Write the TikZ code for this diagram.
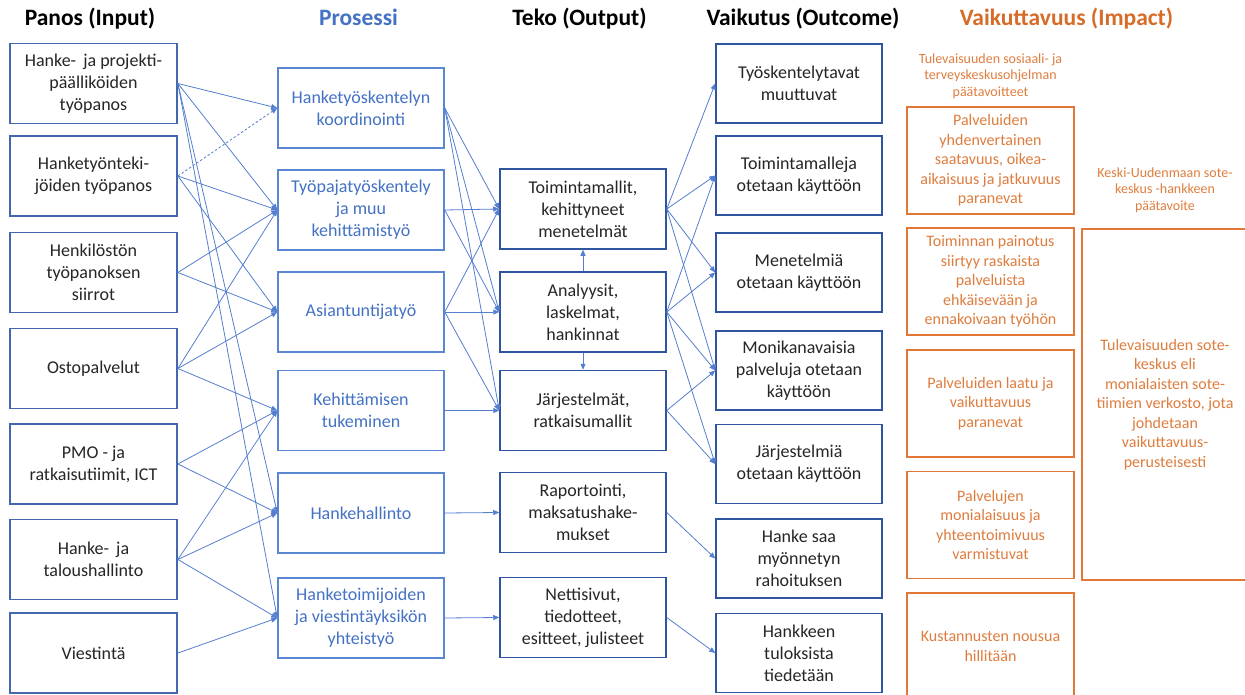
\documentclass[tikz,border=0pt]{standalone}
\usepackage{fontspec}
\setmainfont{Carlito}
\usetikzlibrary{arrows.meta}

\definecolor{inblue}{RGB}{68,104,176}
\definecolor{procblue}{RGB}{91,134,210}
\definecolor{proctext}{RGB}{68,114,196}
\definecolor{outblue}{RGB}{47,85,160}
\definecolor{linkblue}{RGB}{84,126,206}
\definecolor{impact}{RGB}{226,120,56}
\definecolor{impacttext}{RGB}{222,125,62}
\definecolor{headorange}{RGB}{214,108,40}
\definecolor{bodytext}{RGB}{38,38,38}

\tikzset{
  box/.style={draw, rectangle, fill=white, minimum width=167pt, minimum height=80pt,
    inner sep=0pt, align=center, font=\fontsize{18}{22}\selectfont, text=bodytext},
  inbox/.style={box, draw=inblue, line width=1.8pt},
  procbox/.style={box, draw=procblue, line width=1.5pt, text=proctext},
  outbox/.style={box, draw=outblue, line width=1.5pt},
  impbox/.style={draw=impact, line width=1.8pt, rectangle, fill=white, inner sep=0pt,
    minimum width=167pt, minimum height=107pt, align=center,
    font=\fontsize{16}{19.5}\selectfont, text=impacttext},
  impnote/.style={align=center, font=\fontsize{14}{16.3}\selectfont, text=impacttext},
  head/.style={anchor=base, font=\fontsize{23.5}{28}\selectfont\bfseries},
  link/.style={draw=linkblue, line width=0.8pt, -{Triangle[length=6pt,width=5pt]}},
  dashlink/.style={link, dash pattern=on 2.5pt off 2pt},
}

\begin{document}
\begin{tikzpicture}[x=1pt, y=-1pt]
\useasboundingbox (0,0) rectangle (1245,695);

% column headings
\node[head] (hIn)   at (90,26)    {Panos (Input)};
\node[head, text=proctext] (hProc) at (358.5,26) {Prosessi};
\node[head] (hOut)  at (579.5,26) {Teko (Output)};
\node[head] (hOc)   at (803,26)   {Vaikutus (Outcome)};
\node[head, text=headorange] (hImp) at (1066.5,26) {Vaikuttavuus (Impact)};

% inputs
\node[inbox] (A1) at (93.5,83.5)  {Hanke-\, ja projekti-\\päälliköiden\\työpanos};
\node[inbox] (A2) at (93.5,176)   {Hanketyönteki-\\jöiden työpanos};
\node[inbox] (A3) at (93.5,272.5) {Henkilöstön\\työpanoksen\\siirrot};
\node[inbox] (A4) at (93.5,368.5) {Ostopalvelut};
\node[inbox] (A5) at (93.5,464)   {PMO - ja\\ratkaisutiimit, ICT};
\node[inbox] (A6) at (93.5,559.5) {Hanke-\, ja\\taloushallinto};
\node[inbox] (A7) at (93.5,653)   {Viestintä};

% process
\node[procbox, minimum width=166pt] (P1) at (361,108) {Hanketyöskentelyn\\koordinointi};
\node[procbox, minimum width=166pt] (P2) at (361,210) {Työpajatyöskentely\\ja muu\\kehittämistyö};
\node[procbox, minimum width=166pt] (P3) at (361,312) {Asiantuntijatyö};
\node[procbox, minimum width=166pt] (P4) at (361,410.5) {Kehittämisen\\tukeminen};
\node[procbox, minimum width=166pt] (P5) at (361,513) {Hankehallinto};
\node[procbox, minimum width=166pt] (P6) at (361,618) {Hanketoimijoiden\\ja viestintäyksikön\\yhteistyö};

% outputs
\node[outbox, minimum width=166pt] (T1) at (583,209)   {Toimintamallit,\\kehittyneet\\menetelmät};
\node[outbox, minimum width=166pt] (T2) at (583,312)   {Analyysit,\\laskelmat,\\hankinnat};
\node[outbox, minimum width=166pt] (T3) at (583,410.5) {Järjestelmät,\\ratkaisumallit};
\node[outbox, minimum width=166pt] (T4) at (583,512.5) {Raportointi,\\maksatushake-\\mukset};
\node[outbox, minimum width=166pt] (T5) at (583,617.5) {Nettisivut,\\tiedotteet,\\esitteet, julisteet};

% outcomes
\node[outbox, minimum width=166pt, minimum height=79pt] (V1) at (799,83.5) {Työskentelytavat\\muuttuvat};
\node[outbox, minimum width=166pt, minimum height=79pt] (V2) at (799,175.5) {Toimintamalleja\\otetaan käyttöön};
\node[outbox, minimum width=166pt, minimum height=79pt] (V3) at (799,272.5) {Menetelmiä\\otetaan käyttöön};
\node[outbox, minimum width=166pt, minimum height=79pt] (V4) at (799,370.5) {Monikanavaisia\\palveluja otetaan\\käyttöön};
\node[outbox, minimum width=166pt, minimum height=79pt] (V5) at (799,464)   {Järjestelmiä\\otetaan käyttöön};
\node[outbox, minimum width=166pt, minimum height=79pt] (V6) at (799,558.5) {Hanke saa\\myönnetyn\\rahoituksen};
\node[outbox, minimum width=166pt, minimum height=79pt] (V7) at (799,653)   {Hankkeen\\tuloksista\\tiedetään};

% impact
\node[impnote] (Ogoal) at (990.5,76) {Tulevaisuuden sosiaali- ja\\terveyskeskusohjelman\\päätavoitteet};
\node[impbox] (O1) at (990.5,160.5) {Palveluiden\\yhdenvertainen\\saatavuus, oikea-\\aikaisuus ja jatkuvuus\\paranevat};
\node[impbox] (O2) at (990.5,281.5) {Toiminnan painotus\\siirtyy raskaista\\palveluista\\ehkäisevään ja\\ennakoivaan työhön};
\node[impbox] (O3) at (990.5,403.5) {Palveluiden laatu ja\\vaikuttavuus\\paranevat};
\node[impbox] (O4) at (990.5,525)   {Palvelujen\\monialaisuus ja\\yhteentoimivuus\\varmistuvat};
\node[impbox] (O5) at (990.5,646.5) {Kustannusten nousua\\hillitään};
\node[impnote] (Kgoal) at (1165,190) {Keski-Uudenmaan sote-\\keskus -hankkeen\\päätavoite};
\node[impbox, minimum width=166pt, minimum height=351pt] (Big) at (1165,404.5)
  {Tulevaisuuden sote-\\keskus eli\\monialaisten sote-\\tiimien verkosto, jota\\johdetaan\\vaikuttavuus-\\perusteisesti};

% inputs -> process
\draw[link] (A1.east) -- (P1.west);
\draw[link] (A1.east) -- (P2.west);
\draw[link] (A1.east) -- (P5.west);
\draw[link] (A1.east) -- (P6.west);
\draw[dashlink] (A2.east) -- (P1.west);
\draw[link] (A2.east) -- (P2.west);
\draw[link] (A2.east) -- (P3.west);
\draw[link] (A3.east) -- (P2.west);
\draw[link] (A3.east) -- (P3.west);
\draw[link] (A4.east) -- (P2.west);
\draw[link] (A4.east) -- (P3.west);
\draw[link] (A4.east) -- (P4.west);
\draw[link] (A5.east) -- (P4.west);
\draw[link] (A5.east) -- (P5.west);
\draw[link] (A6.east) -- (P4.west);
\draw[link] (A6.east) -- (P5.west);
\draw[link] (A6.east) -- (P6.west);
\draw[link] (A7.east) -- (P6.west);

% process -> outputs
\draw[link] (P1.east) -- (T1.west);
\draw[link] (P1.east) -- (T2.west);
\draw[link] (P1.east) -- (T3.west);
\draw[link] (P2.east) -- (T1.west);
\draw[link] (P2.east) -- (T2.west);
\draw[link] (P3.east) -- (T1.west);
\draw[link] (P3.east) -- (T2.west);
\draw[link] (P3.east) -- (T3.west);
\draw[link] (P4.east) -- (T3.west);
\draw[link] (P5.east) -- (T4.west);
\draw[link] (P6.east) -- (T5.west);

% between outputs
\draw[link] (T2.north) -- (T1.south);
\draw[link] (T2.south) -- (T3.north);

% outputs -> outcomes
\draw[link] (T1.east) -- (V1.west);
\draw[link] (T1.east) -- (V2.west);
\draw[link] (T1.east) -- (V3.west);
\draw[link] (T1.east) -- (V4.west);
\draw[link] (T2.east) -- (V2.west);
\draw[link] (T2.east) -- (V3.west);
\draw[link] (T2.east) -- (V4.west);
\draw[link] (T2.east) -- (V5.west);
\draw[link] (T3.east) -- (V4.west);
\draw[link] (T3.east) -- (V5.west);
\draw[link] (T4.east) -- (V6.west);
\draw[link] (T5.east) -- (V7.west);
\end{tikzpicture}
\end{document}
